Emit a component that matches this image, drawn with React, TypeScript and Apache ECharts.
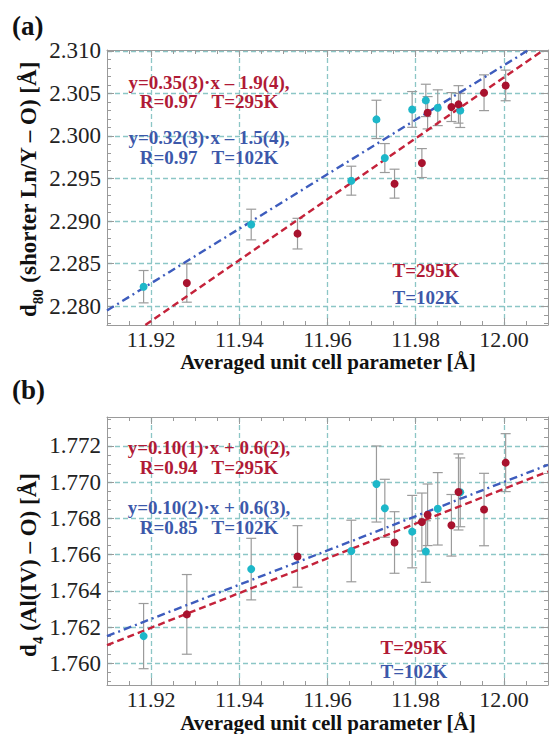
import React, { useEffect, useRef } from "react";
import * as echarts from "echarts";

// ---------- data ----------
const xCyan = [11.9183, 11.9427, 11.9654, 11.9711, 11.973, 11.9792, 11.9823, 11.985, 11.9901];
const xRed = [11.9281, 11.9532, 11.9752, 11.9814, 11.9827, 11.9881, 11.9897, 11.9955, 12.0004];

// panel (a): d80
const cyanA = [2.2823, 2.2896, 2.29475, 2.30195, 2.29741, 2.30312, 2.30418, 2.30332, 2.303];
const cyanAErr = [0.0019, 0.0018, 0.0017, 0.00225, 0.0017, 0.0021, 0.0019, 0.0021, 0.002];
const redA = [2.28273, 2.28853, 2.2944, 2.29682, 2.30273, 2.3034, 2.30371, 2.30508, 2.30594];
const redAErr = [0.00225, 0.0018, 0.0017, 0.0017, 0.0019, 0.0017, 0.0022, 0.0021, 0.0018];

// panel (b): d4
const cyanB = [1.7615, 1.7652, 1.7662, 1.7699, 1.76856, 1.76727, 1.76617, 1.76853, 1.76944];
const cyanBErr = [0.0018, 0.0017, 0.0017, 0.0021, 0.0016, 0.002, 0.0017, 0.002, 0.0019];
const redB = [1.7627, 1.7659, 1.76667, 1.7678, 1.7682, 1.76762, 1.76946, 1.76849, 1.77108];
const redBErr = [0.0022, 0.0017, 0.0017, 0.0016, 0.0017, 0.0017, 0.0021, 0.002, 0.0016];

// fit lines (endpoints)
const fitRedA = [[11.9187, 2.2778], [12.009, 2.3101]];
const fitBlueA = [[11.91, 2.2795], [12.0056, 2.3101]];
const fitRedB = [[11.91, 1.761], [12.01, 1.77059]];
const fitBlueB = [[11.91, 1.7615], [12.01, 1.77096]];

// tick labels
const xTicks = ["11.92", "11.94", "11.96", "11.98", "12.00"];
const yTicksA = ["2.280", "2.285", "2.290", "2.295", "2.300", "2.305", "2.310"];
const yTicksB = ["1.760", "1.762", "1.764", "1.766", "1.768", "1.770", "1.772"];

// texts
const eqRedA = ["y=0.35(3)·x – 1.9(4),", "R=0.97   T=295K"];
const eqBlueA = ["y=0.32(3)·x – 1.5(4),", "R=0.97   T=102K"];
const eqRedB = ["y=0.10(1)·x + 0.6(2),", "R=0.94   T=295K"];
const eqBlueB = ["y=0.10(2)·x + 0.6(3),", "R=0.85   T=102K"];
const legendRed = "T=295K";
const legendBlue = "T=102K";

const FONT = "Liberation Serif, Times New Roman, serif";
const RED_PT = "#a8122e";
const CYAN_PT = "#1db7c9";
const RED_LINE = "#c4223a";
const BLUE_LINE = "#3d5cbd";
const RED_TXT = "#b01a36";
const BLUE_TXT = "#3c58aa";
const AXIS_GRAY = "#9a9a9a";
const GRID_TEAL = "#8cc6c6";

function fmt(list: string[], dec: number) {
  return (v: number) => {
    const s = v.toFixed(dec);
    return list.indexOf(s) >= 0 ? s : "";
  };
}

function xAxes(grid: number) {
  const base = {
    gridIndex: grid,
    type: "value",
    min: 11.91,
    max: 12.01,
    splitNumber: 5,
    minInterval: 0.02,
    maxInterval: 0.02,
    axisLine: { show: true, onZero: false, lineStyle: { color: AXIS_GRAY, width: 1 } },
    axisTick: { show: true, inside: true, length: 7, lineStyle: { color: AXIS_GRAY } },
    minorTick: { show: true, splitNumber: 4, length: 4, lineStyle: { color: AXIS_GRAY } },
  };
  return [
    {
      ...base,
      position: "bottom",
      splitLine: { show: true, showMinLine: false, showMaxLine: false, lineStyle: { color: GRID_TEAL, type: [5, 3], width: 1.3 } },
      axisLabel: { formatter: fmt(xTicks, 2), fontSize: 22, lineHeight: 22, fontFamily: FONT, color: "#222", margin: 3 },
    },
    {
      ...base,
      position: "top",
      splitLine: { show: false },
      axisLabel: { show: false },
    },
  ];
}

function yAxes(grid: number, min: number, max: number, step: number, ticks: string[], minorSplit: number) {
  const base = {
    gridIndex: grid,
    type: "value",
    min,
    max,
    minInterval: step,
    maxInterval: step,
    axisLine: { show: true, onZero: false, lineStyle: { color: AXIS_GRAY, width: 1 } },
    axisTick: { show: true, inside: true, length: 7, lineStyle: { color: AXIS_GRAY } },
    minorTick: { show: true, splitNumber: minorSplit, length: 4, lineStyle: { color: AXIS_GRAY } },
  };
  return [
    {
      ...base,
      position: "left",
      splitLine: { show: true, showMinLine: false, showMaxLine: false, lineStyle: { color: GRID_TEAL, type: [5, 3], width: 1.3 } },
      axisLabel: { formatter: fmt(ticks, 3), fontSize: 23, fontFamily: FONT, color: "#222", margin: 6 },
    },
    {
      ...base,
      position: "right",
      splitLine: { show: false },
      axisLabel: { show: false },
    },
  ];
}

function errSeries(xi: number, yi: number, xs: number[], ys: number[], es: number[]) {
  return {
    type: "custom",
    xAxisIndex: xi,
    yAxisIndex: yi,
    z: 1,
    encode: { x: 0, y: 1 },
    data: xs.map((x, i) => [x, ys[i], es[i]]),
    renderItem: (params: any, api: any) => {
      const x = api.value(0);
      const y = api.value(1);
      const e = api.value(2);
      const t = api.coord([x, y + e]);
      const b = api.coord([x, y - e]);
      const st = { stroke: "#9b9b9b", lineWidth: 1.2 };
      return {
        type: "group",
        children: [
          { type: "line", shape: { x1: t[0], y1: t[1], x2: b[0], y2: b[1] }, style: st },
          { type: "line", shape: { x1: t[0] - 5, y1: t[1], x2: t[0] + 5, y2: t[1] }, style: st },
          { type: "line", shape: { x1: b[0] - 5, y1: b[1], x2: b[0] + 5, y2: b[1] }, style: st },
        ],
      };
    },
  };
}

function ptSeries(xi: number, yi: number, xs: number[], ys: number[], color: string) {
  return {
    type: "scatter",
    xAxisIndex: xi,
    yAxisIndex: yi,
    z: 4,
    symbolSize: 8,
    itemStyle: { color, opacity: 1 },
    data: xs.map((x, i) => [x, ys[i]]),
  };
}

function fitSeries(xi: number, yi: number, pts: number[][], color: string, dash: number[]) {
  return {
    type: "line",
    xAxisIndex: xi,
    yAxisIndex: yi,
    z: 3,
    symbol: "none",
    clip: true,
    lineStyle: { color, width: 2.4, type: dash },
    data: pts,
  };
}

function txt(x: number, y: number, text: string, color: string, size: number, align = "center", lh?: number) {
  return {
    type: "text",
    x,
    y,
    z: 10,
    style: {
      text,
      fill: color,
      fontSize: size,
      fontWeight: "bold",
      fontFamily: FONT,
      align,
      verticalAlign: "middle",
      lineHeight: lh ?? size,
    },
  };
}

function yTitle(cx: number, cy: number, main: string, sub: string, rest: string) {
  return {
    type: "text",
    x: cx,
    y: cy,
    rotation: Math.PI / 2,
    z: 10,
    style: {
      text: `{m|${main}}{s|${sub}}{m|${rest}}`,
      align: "center",
      verticalAlign: "middle",
      fontFamily: FONT,
      fill: "#111",
      rich: {
        m: { fontSize: 23, fontWeight: "bold", fontFamily: FONT, fill: "#111", lineHeight: 28, verticalAlign: "top" },
        s: { fontSize: 15, fontWeight: "bold", fontFamily: FONT, fill: "#111", lineHeight: 15, verticalAlign: "bottom" },
      },
    },
  };
}

export default function App() {
  const ref = useRef<HTMLDivElement>(null);
  useEffect(() => {
    document.body.style.margin = "0";
    if (!ref.current) return;
    const chart = echarts.init(ref.current, null, { renderer: "svg" });
    const option: any = {
      animation: false,
      backgroundColor: "#fff",
      grid: [
        { left: 107, top: 50, width: 442, height: 275 },
        { left: 107, top: 417, width: 442, height: 268 },
      ],
      xAxis: [...xAxes(0), ...xAxes(1)],
      yAxis: [
        ...yAxes(0, 2.2778, 2.3101, 0.005, yTicksA, 5),
        ...yAxes(1, 1.7588, 1.7736, 0.002, yTicksB, 4),
      ],
      series: [
        errSeries(0, 0, xCyan, cyanA, cyanAErr),
        errSeries(0, 0, xRed, redA, redAErr),
        fitSeries(0, 0, fitRedA, RED_LINE, [7, 4]),
        fitSeries(0, 0, fitBlueA, BLUE_LINE, [8, 4, 2, 4]),
        ptSeries(0, 0, xCyan, cyanA, CYAN_PT),
        ptSeries(0, 0, xRed, redA, RED_PT),
        errSeries(2, 2, xCyan, cyanB, cyanBErr),
        errSeries(2, 2, xRed, redB, redBErr),
        fitSeries(2, 2, fitRedB, RED_LINE, [7, 4]),
        fitSeries(2, 2, fitBlueB, BLUE_LINE, [8, 4, 2, 4]),
        ptSeries(2, 2, xCyan, cyanB, CYAN_PT),
        ptSeries(2, 2, xRed, redB, RED_PT),
      ],
      graphic: [
        txt(12, 26, "(a)", "#111", 27, "left"),
        txt(12, 390, "(b)", "#111", 27, "left"),
        txt(209, 82, eqRedA[0], RED_TXT, 19),
        txt(209, 101, eqRedA[1], RED_TXT, 19),
        txt(209, 137, eqBlueA[0], BLUE_TXT, 19),
        txt(209, 157, eqBlueA[1], BLUE_TXT, 19),
        txt(426, 270, legendRed, RED_TXT, 19),
        txt(426, 297, legendBlue, BLUE_TXT, 19),
        txt(209, 447, eqRedB[0], RED_TXT, 19),
        txt(209, 467, eqRedB[1], RED_TXT, 19),
        txt(209, 507, eqBlueB[0], BLUE_TXT, 19),
        txt(209, 527, eqBlueB[1], BLUE_TXT, 19),
        txt(414, 647, legendRed, RED_TXT, 19),
        txt(414, 671, legendBlue, BLUE_TXT, 19),
        txt(328, 361.5, "Averaged unit cell parameter [Å]", "#111", 21),
        txt(328, 723, "Averaged unit cell parameter [Å]", "#111", 21),
        yTitle(31, 189, "d", "80", " (shorter Ln/Y – O) [Å]"),
        yTitle(31, 565, "d", "4", " (Al(IV) – O) [Å]"),
      ],
    };
    chart.setOption(option);
    return () => chart.dispose();
  }, []);
  return <div ref={ref} style={{ width: 551, height: 734 }} />;
}
